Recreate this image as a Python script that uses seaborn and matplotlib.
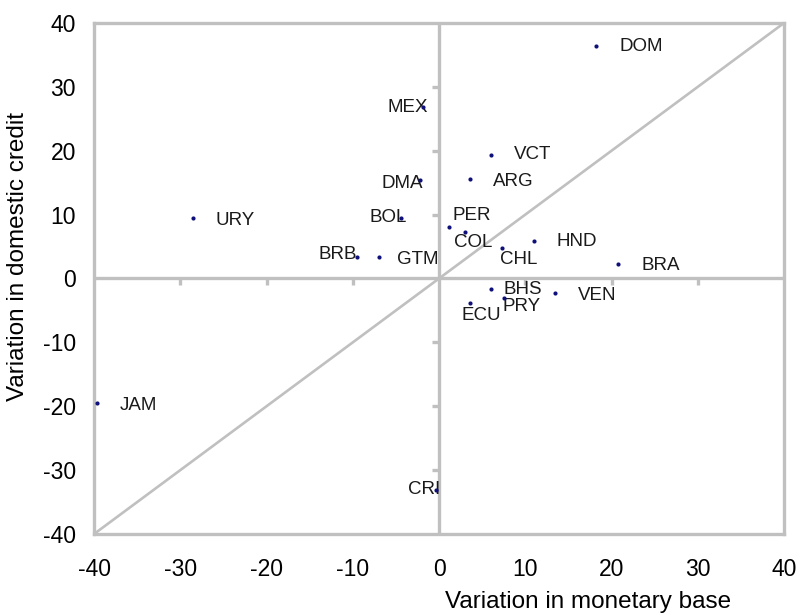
import matplotlib
matplotlib.use("Agg")
import matplotlib.pyplot as plt
from matplotlib.markers import TICKDOWN, TICKLEFT
import pandas as pd
import seaborn as sns

countries = ["DOM", "MEX", "VCT", "ARG", "DMA", "URY", "BOL", "PER", "COL", "CHL",
             "HND", "BRB", "GTM", "BRA", "BHS", "VEN", "PRY", "ECU", "JAM", "CRI"]
monetary_base = [18.2, -1.9, 6.0, 3.6, -2.2, -28.5, -4.4, 1.2, 3.0, 7.3,
                 11.0, -9.5, -7.0, 20.8, 6.0, 13.4, 7.5, 3.6, -39.7, -0.35]
domestic_credit = [36.4, 26.8, 19.4, 15.5, 15.4, 9.4, 9.5, 8.1, 7.3, 4.8,
                   5.9, 3.4, 3.4, 2.3, -1.7, -2.3, -3.1, -3.8, -19.5, -33.1]
ticks = [-40, -30, -20, -10, 0, 10, 20, 30, 40]

df = pd.DataFrame({"country": countries, "base": monetary_base, "credit": domestic_credit})

# label placement (offset in pixels, alignment)
label_pos = {
    "DOM": (24, -1, "left"), "MEX": (5, 0, "right"), "VCT": (23, 0, "left"),
    "ARG": (23, -2, "left"), "DMA": (3, -3, "right"), "URY": (22, -2, "left"),
    "BOL": (6, 0, "right"), "PER": (3, 11, "left"), "COL": (-11, -11, "left"),
    "CHL": (-2, -12, "left"), "HND": (23, -1, "left"), "BRB": (0, 2, "right"),
    "GTM": (18, -3, "left"), "BRA": (23, -2, "left"), "BHS": (13, 0, "left"),
    "VEN": (23, -2, "left"), "PRY": (-1, -8, "left"), "ECU": (-9, -13, "left"),
    "JAM": (23, -2, "left"), "CRI": (4, 0, "right"),
}

sns.set_style("white")
plt.rcParams["font.family"] = ["Liberation Sans", "DejaVu Sans"]
plt.rcParams["axes.unicode_minus"] = False
plt.rcParams["text.color"] = "black"
plt.rcParams["axes.labelcolor"] = "black"
plt.rcParams["xtick.color"] = "black"
plt.rcParams["ytick.color"] = "black"

grey = "#c0c0c0"
fig = plt.figure(figsize=(8.01, 6.16), dpi=100)
ax = fig.add_axes([0.1174, 0.1331, 0.8614, 0.8296])

ax.axhline(0, color=grey, lw=2.4, zorder=1)
ax.axvline(0, color=grey, lw=2.4, zorder=1)
ax.plot([-40, 40], [-40, 40], color=grey, lw=1.9, zorder=1)

# small ticks on the zero lines
inner = [t for t in ticks if t not in (-40, 0, 40)]
ax.plot(inner, [0] * len(inner), ls="none", marker=TICKDOWN, ms=5, mew=2.4, color=grey, zorder=1)
ax.plot([0] * len(inner), inner, ls="none", marker=TICKLEFT, ms=5, mew=2.4, color=grey, zorder=1)

for _, r in df.iterrows():
    dx, dy, ha = label_pos[r["country"]]
    ax.annotate(r["country"], (r["base"], r["credit"]), xytext=(dx, dy),
                textcoords="offset pixels", ha=ha, va="center", fontsize=13.5,
                color="#1a1a1a", zorder=2)

sns.scatterplot(data=df, x="base", y="credit", ax=ax, color="#10107a",
                s=9, linewidth=0, zorder=3)

ax.set_xlim(-40, 40)
ax.set_ylim(-40, 40)
ax.set_xticks(ticks)
ax.set_yticks(ticks)
ax.tick_params(axis="x", length=0, pad=17, labelsize=16.5)
ax.tick_params(axis="y", length=0, pad=13, labelsize=16.5)
for s in ax.spines.values():
    s.set_color(grey)
    s.set_linewidth(2.4)

ax.set_xlabel("Variation in monetary base", fontsize=17.5, va="center")
ax.xaxis.set_label_coords(0.716, -0.133)
ax.set_ylabel("Variation in domestic credit", fontsize=17.5, va="center")
ax.yaxis.set_label_coords(-0.110, 0.544)

fig.savefig("out.png", dpi=100)
